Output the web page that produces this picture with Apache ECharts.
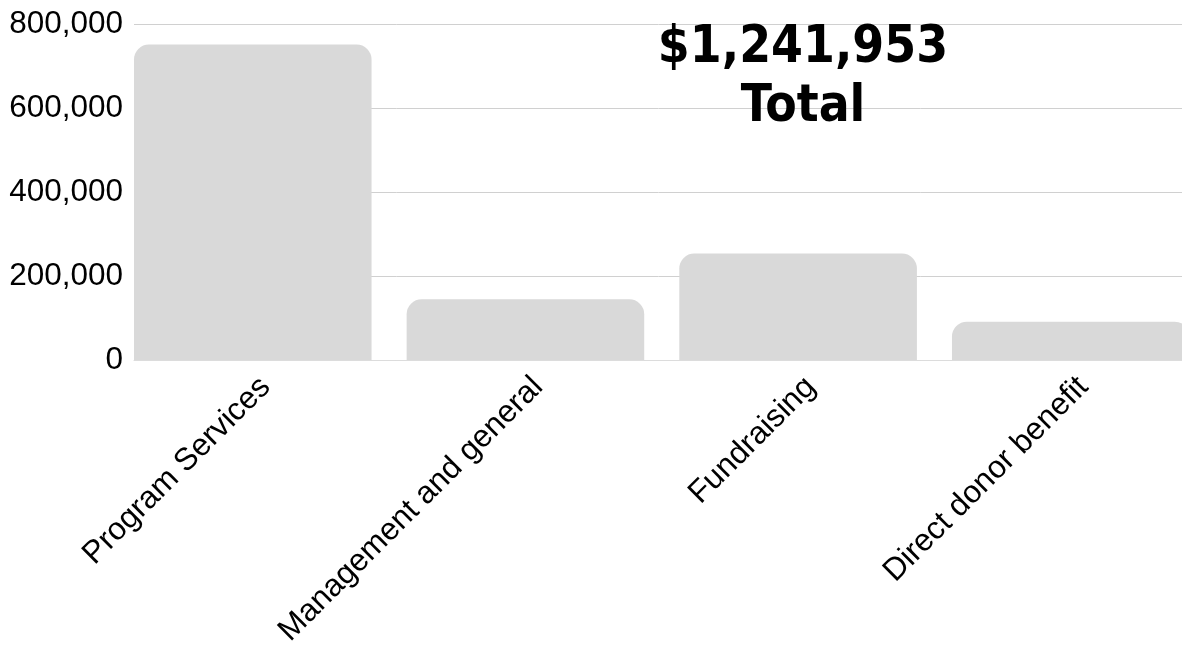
<!DOCTYPE html>
<html>
<head>
<meta charset="utf-8">
<script src="https://cdn.jsdelivr.net/npm/echarts@6/dist/echarts.min.js"></script>
<style>
html,body{margin:0;padding:0;background:#fff;}
#chart{width:1182px;height:645px;}
</style>
</head>
<body>
<div id="chart"></div>
<script>
const categories = ["Program Services", "Management and general", "Fundraising", "Direct donor benefit"];
const values = [751000, 145000, 254000, 92000];
const yTicks = [0, 200000, 400000, 600000, 800000];
const totalLabel = "$1,241,953";
const totalWord = "Total";

const chart = echarts.init(document.getElementById('chart'), null, {renderer: 'canvas'});
chart.setOption({
  animation: false,
  backgroundColor: '#ffffff',
  title: {
    text: totalLabel + "\n" + totalWord,
    left: 798,
    top: 14,
    textAlign: 'center',
    textStyle: {
      fontFamily: '"DejaVu Sans Condensed", "DejaVu Sans", sans-serif',
      fontWeight: 'bold',
      fontSize: 51,
      lineHeight: 59,
      color: '#000'
    }
  },
  grid: { left: 134, width: 1090.7, top: 24, height: 336.3, containLabel: false, outerBoundsMode: 'none' },
  xAxis: {
    type: 'category',
    data: categories,
    boundaryGap: true,
    axisLine: { show: true, lineStyle: { color: '#dcdcdc', width: 1 } },
    axisTick: { show: false },
    axisLabel: {
      interval: 0,
      rotate: 45,
      margin: 17,
      padding: [0, 7, 0, 0],
      fontFamily: '"Liberation Sans", Arial, sans-serif',
      fontSize: 31.5,
      color: '#000'
    },
    splitLine: { show: false }
  },
  yAxis: {
    type: 'value',
    min: yTicks[0],
    max: yTicks[yTicks.length - 1],
    interval: yTicks[1] - yTicks[0],
    axisLine: { show: false },
    axisTick: { show: false },
    axisLabel: {
      margin: 11,
      fontFamily: '"Liberation Sans", Arial, sans-serif',
      fontSize: 31.5,
      color: '#000',
      formatter: v => v.toLocaleString('en-US')
    },
    splitLine: { show: true, lineStyle: { color: '#d0d0d0', width: 1 } }
  },
  series: [
    {
      type: 'bar',
      data: values,
      barWidth: 237.6,
      barGap: '-85.2%',
      itemStyle: { color: '#d9d9d9', borderRadius: [15, 15, 0, 0] },
      silent: true
    },
    {
      type: 'bar',
      data: [],
      barWidth: 237.6,
      silent: true
    }
  ]
});
</script>
</body>
</html>
